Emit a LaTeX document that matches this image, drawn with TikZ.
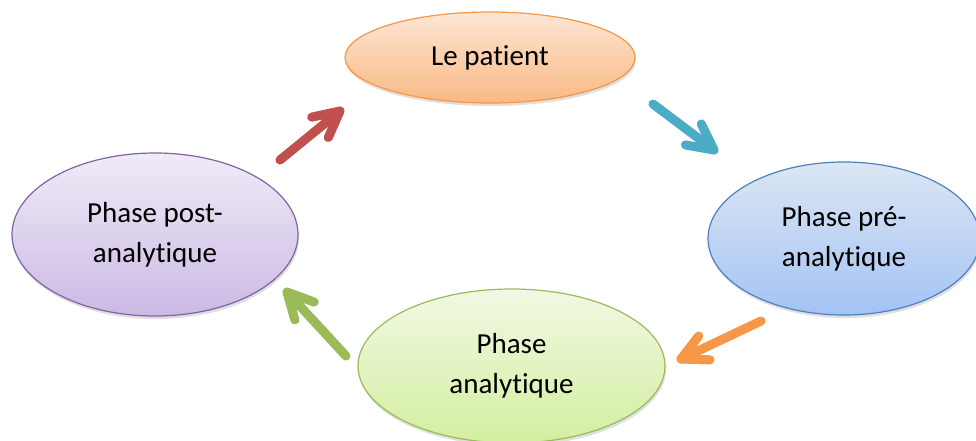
\documentclass[tikz,border=0pt]{standalone}
\usepackage{fontspec}
\setmainfont[Ligatures={NoCommon}]{Carlito}
\usetikzlibrary{shapes.geometric,calc,shadows}
\definecolor{oBorder}{HTML}{F79646}
\definecolor{oTop}{HTML}{FDE6D4}
\definecolor{oBot}{HTML}{F9B985}
\definecolor{bBorder}{HTML}{4F81BD}
\definecolor{bTop}{HTML}{DCE6F4}
\definecolor{bBot}{HTML}{A3C3F5}
\definecolor{gBorder}{HTML}{9BBB59}
\definecolor{gTop}{HTML}{F1F8E3}
\definecolor{gBot}{HTML}{D3EFA0}
\definecolor{pBorder}{HTML}{8064A2}
\definecolor{pTop}{HTML}{F0EBF7}
\definecolor{pBot}{HTML}{CBB9E4}
\definecolor{aRed}{HTML}{C0504D}
\definecolor{aBlue}{HTML}{4BACC6}
\definecolor{aOrange}{HTML}{F79646}
\definecolor{aGreen}{HTML}{9BBB59}
\begin{document}
\begin{tikzpicture}[x=1pt,y=-1pt,
  bubble/.style={ellipse, draw, line width=1.2pt, inner sep=0pt, align=center,
    font=\fontsize{29}{40}\selectfont,
    drop shadow={opacity=0.25, shadow xshift=1pt, shadow yshift=-3pt}},
  fat/.style={line width=9pt, line cap=round, line join=round},
  fatshadow/.style={line width=9pt, line cap=round, line join=round, black, opacity=0.12, xshift=2pt, yshift=-3pt}
]
\useasboundingbox (0,0) rectangle (976,440);

\node[bubble, draw=oBorder, top color=oTop, bottom color=oBot,
  minimum width=290pt, minimum height=91pt] (patient) at (490,57.5) {Le patient};
\node[bubble, draw=bBorder, top color=bTop, bottom color=bBot,
  minimum width=272pt, minimum height=153pt] (pre) at (844,238.5) {Phase pré-\\analytique};
\node[bubble, draw=gBorder, top color=gTop, bottom color=gBot,
  minimum width=307pt, minimum height=154pt] (ana) at (511.5,366) {Phase\\analytique};
\node[bubble, draw=pBorder, top color=pTop, bottom color=pBot,
  minimum width=286pt, minimum height=163pt] (post) at (155,234.5) {Phase post-\\analytique};

% arrow end points
\coordinate (rT) at (280,160); \coordinate (rH) at (340,111);
\coordinate (bT) at (653,104); \coordinate (bH) at (714,150);
\coordinate (oT) at (761,321); \coordinate (oH) at (681,359);
\coordinate (gT) at (346,356); \coordinate (gH) at (287,292);

\foreach \t/\h/\c in {rT/rH/aRed, bT/bH/aBlue, oT/oH/aOrange, gT/gH/aGreen}{
  \draw[fatshadow] (\t) -- (\h) ($(\h)!29pt!27:(\t)$) -- (\h) -- ($(\h)!29pt!-27:(\t)$);
  \draw[fat, draw=\c] (\t) -- (\h) ($(\h)!29pt!27:(\t)$) -- (\h) -- ($(\h)!29pt!-27:(\t)$);
}
\end{tikzpicture}
\end{document}
